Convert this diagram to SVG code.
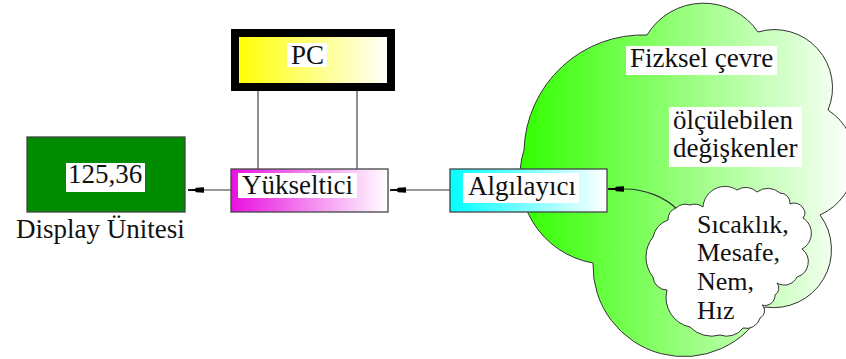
<svg xmlns="http://www.w3.org/2000/svg" width="846" height="359" viewBox="0 0 846 359">
<style>
text{font-family:"Liberation Serif","Times New Roman",serif;font-size:27px;fill:#111}
.sm{font-size:26px}
.box{stroke:#444;stroke-width:1.3}
.ln{fill:none;stroke:#333;stroke-width:1.1}
.lab{fill:#fff}
</style>
<defs>
<linearGradient id="gy"><stop offset="0" stop-color="#ffff00"/><stop offset="1" stop-color="#ffffff"/></linearGradient>
<linearGradient id="gm"><stop offset="0" stop-color="#e810e0"/><stop offset="1" stop-color="#ffffff"/></linearGradient>
<linearGradient id="gc"><stop offset="0" stop-color="#00ffff"/><stop offset="1" stop-color="#ffffff"/></linearGradient>
<linearGradient id="gg"><stop offset="0" stop-color="#33ff00"/><stop offset="1" stop-color="#ffffff"/></linearGradient>
<marker id="ah" markerUnits="userSpaceOnUse" markerWidth="18" markerHeight="8" refX="16" refY="4" orient="auto"><path d="M0 1.2L8 1.8L9 3L16 3.3V4.7L9 5L8 6.2L0 6.8Z" fill="#000"/></marker>
</defs>
<g id="environment">
<path d="M647 35A66 66 0 0 1 758 32A58 58 0 0 1 828 110A60 60 0 0 1 820 215A58 58 0 0 1 765 307A91 91 0 0 1 593 263A88 88 0 0 1 524 150A119 119 0 0 1 647 35Z" fill="url(#gg)" stroke="#333" stroke-width="1"/>
<rect class="lab" x="626" y="46" width="151" height="29"/>
<text x="630" y="67">Fizksel çevre</text>
<rect class="lab" x="669" y="107" width="133" height="60"/>
<text x="673" y="129">ölçülebilen</text>
<text x="673" y="157">değişkenler</text>
</g>
<g id="connectors">
<path class="ln" d="M258 90V169M357 90V169"/>
<path class="ln" marker-end="url(#ah)" d="M231 190H188"/>
<path class="ln" marker-end="url(#ah)" d="M450 190H390"/>
<path class="ln" marker-end="url(#ah)" d="M678 210C665 197 645 189 625 189H608"/>
</g>
<g id="pc">
<rect x="235" y="33" width="156" height="54" fill="url(#gy)" stroke="#000" stroke-width="8"/>
<rect class="lab" x="287" y="43" width="40" height="24"/>
<text x="291" y="64">PC</text>
</g>
<g id="display">
<rect class="box" x="27" y="137" width="158" height="75" fill="#008c00"/>
<rect class="lab" x="66" y="163" width="79" height="29"/>
<text x="68" y="183">125,36</text>
<text x="16" y="238">Display Ünitesi</text>
</g>
<g id="yukseltici">
<rect class="box" x="231" y="169" width="157" height="43" fill="url(#gm)"/>
<rect class="lab" x="238" y="173" width="119" height="25"/>
<text x="242" y="194">Yükseltici</text>
</g>
<g id="algilayici">
<rect class="box" x="450" y="169" width="157" height="43" fill="url(#gc)"/>
<rect class="lab" x="463" y="173" width="116" height="30"/>
<text x="468" y="195">Algılayıcı</text>
</g>
<g id="quantities">
<path d="M676 208A14 14 0 0 1 690 205A14 14 0 0 1 703 207A22 22 0 0 1 737 190A16 16 0 0 1 757 192A18 18 0 0 1 780 193A10 10 0 0 1 790 204A10 10 0 0 1 803 208A8 8 0 0 1 803 218A18 18 0 0 1 802 249A16 16 0 0 1 797 277A14 14 0 0 1 777 283A8 8 0 0 1 775 295A10 10 0 0 1 762 305A8 8 0 0 1 760 318A14 14 0 0 1 743 328A20 20 0 0 1 720 335A30 30 0 0 1 690 327A30 30 0 0 1 667 290A14 14 0 0 1 653 277A32 32 0 0 1 653 237A24 24 0 0 1 668 220A12 12 0 0 1 676 208Z" fill="#fff" stroke="#333" stroke-width="1"/>
<text class="sm" x="697" y="233">Sıcaklık,</text>
<text class="sm" x="697" y="261">Mesafe,</text>
<text class="sm" x="697" y="290">Nem,</text>
<text class="sm" x="697" y="319">Hız</text>
</g>
</svg>
